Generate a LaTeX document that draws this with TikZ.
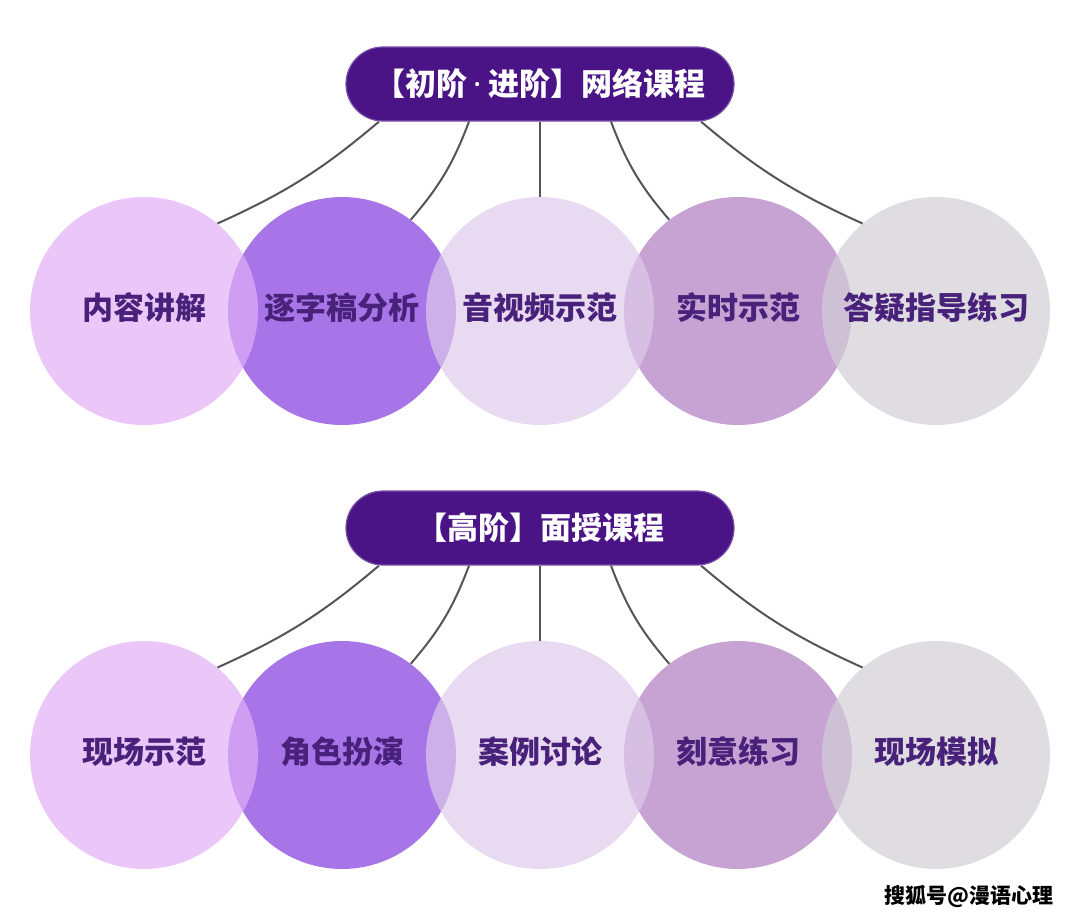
\documentclass[tikz,border=0pt]{standalone}
\usepackage{fontspec}
\setmainfont{Noto Sans CJK SC}
\newfontfamily\latinfont{Noto Sans}
\usetikzlibrary{calc,positioning}
\definecolor{pillfill}{RGB}{74,20,134}
\definecolor{pilledge}{RGB}{120,80,170}
\definecolor{balltext}{RGB}{72,34,122}
\definecolor{linkgray}{RGB}{85,85,85}
\definecolor{ballA}{RGB}{225,175,245}
\definecolor{ballB}{RGB}{167,117,232}
\definecolor{ballC}{RGB}{222,202,234}
\definecolor{ballD}{RGB}{199,163,211}
\definecolor{ballE}{RGB}{211,207,214}
\tikzset{
  pill/.style  = {shape=rectangle, rounded corners=37pt,
                  draw=pilledge, fill=pillfill, line width=1.2pt,
                  minimum width=388pt, minimum height=74pt, text=white,
                  font=\fontsize{31}{36}\selectfont\bfseries},
  ball/.style  = {shape=circle, minimum size=228pt, inner sep=0pt,
                  text height=24pt, text depth=8pt,
                  text=balltext, font=\fontsize{31}{36}\selectfont\bfseries},
  light/.style = {ball, fill opacity=0.7, text opacity=1},
  link/.style  = {draw=linkgray, line width=2pt}
}

\begin{document}
\begin{tikzpicture}[x=1pt,y=-1pt]
\useasboundingbox (0,0) rectangle (1080,921);
% first group
\node [pill] (net) at (540,84) {【初阶\hspace{6pt}{\latinfont ·}\hspace{6pt}进阶】网络课程};
\node [ball, fill=ballB] (n2) at (342,311) {逐字稿分析};
\node [ball, fill=ballD] (n4) at (738,311) {实时示范};
\node [light, fill=ballA] (n1) at (144,311) {内容讲解};
\node [light, fill=ballC] (n3) at (540,311) {音视频示范};
\node [light, fill=ballE] (n5) at (936,311) {答疑指导练习};
\draw [link] ([xshift=-161pt]net.south) to[bend left=8] (n1.50);
\draw [link] ([xshift=-71pt]net.south) to[bend left=10] (n2.53);
\draw [link] (net.south) -- (n3.north);
\draw [link] ([xshift=71pt]net.south) to[bend right=10] (n4.127);
\draw [link] ([xshift=161pt]net.south) to[bend right=8] (n5.130);
% second group
\node [pill] (face) at (540,528) {【高阶】面授课程};
\node [ball, fill=ballB] (m2) at (342,755) {角色扮演};
\node [ball, fill=ballD] (m4) at (738,755) {刻意练习};
\node [light, fill=ballA] (m1) at (144,755) {现场示范};
\node [light, fill=ballC] (m3) at (540,755) {案例讨论};
\node [light, fill=ballE] (m5) at (936,755) {现场模拟};
\draw [link] ([xshift=-161pt]face.south) to[bend left=8] (m1.50);
\draw [link] ([xshift=-71pt]face.south) to[bend left=10] (m2.53);
\draw [link] (face.south) -- (m3.north);
\draw [link] ([xshift=71pt]face.south) to[bend right=10] (m4.127);
\draw [link] ([xshift=161pt]face.south) to[bend right=8] (m5.130);
\node [font=\fontsize{21}{25}\selectfont\bfseries] (mark) at (969,896) {搜狐号@漫语心理};
\end{tikzpicture}
\end{document}
